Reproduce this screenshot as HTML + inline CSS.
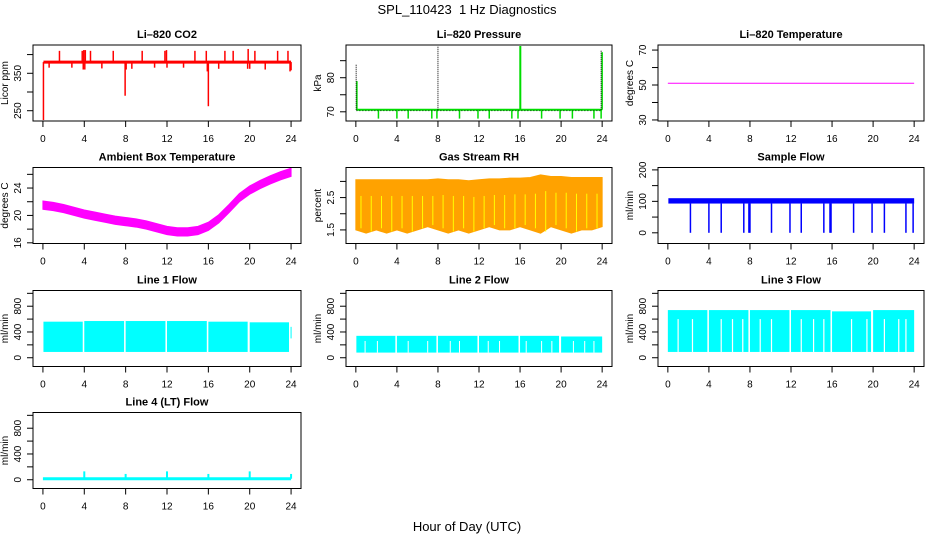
<!DOCTYPE html>
<html><head><meta charset="utf-8"><style>
html,body{margin:0;padding:0;background:#fff}
svg{display:block;font-family:"Liberation Sans",sans-serif}
</style></head><body>
<svg id="c" width="936" height="540" viewBox="0 0 936 540" xmlns="http://www.w3.org/2000/svg">
<text x="467" y="14" font-size="13" text-anchor="middle">SPL_110423&#160; 1 Hz Diagnostics</text>
<text x="467" y="531" font-size="13" text-anchor="middle">Hour of Day (UTC)</text>
</svg>
<script>
const xTicks=[0,4,8,12,16,20,24];
const hourly=[0,1,2,3,4,5,6,7,8,9,10,11,12,13,14,15,16,17,18,19,20,21,22,23,24];
// CO2
const co2Base=380;
const co2UpHours=[1.6,3.8,3.95,4.1,4.6,6.8,9.6,11.8,11.95,14.7,15.8,17.6,18.4,19.85,20.5,22.7,23.7];
const co2UpVals=[410,410,412,412,410,410,410,410,412,410,410,410,410,415,410,410,410];
const co2DownHours=[0.05,0.6,2.8,3.9,4.05,5.7,7.95,8.05,8.6,10.8,12.0,13.6,15.9,16.0,17.0,19.8,20.0,21.5,23.9,24];
const co2DownVals=[225,365,365,360,360,363,290,360,362,365,365,365,355,262,362,362,362,360,355,358];
// Pressure
const presBase=70.6;
const presBlackHours=[0.03,8.0,23.9];
const presBlackVals=[84,89.3,88];
const presGreenHours=[0.1,16.0,16.05,24.0];
const presGreenVals=[79,89.3,89.3,87.5];
const presDipHours=[2.2,4.0,5.1,7.4,7.9,10.1,11.9,13.0,15.2,15.8,18.1,19.9,21.1,23.2,23.9];
const presDipVal=68;
// Li-820 temperature
const tempVal=51;
// Ambient box temperature
const ambVals=[21.5,21.3,21.0,20.6,20.2,19.9,19.6,19.3,19.1,18.9,18.6,18.2,17.8,17.6,17.6,17.8,18.4,19.5,21.0,22.6,23.7,24.5,25.2,25.8,26.3];
// RH
const rhUpper=[3.05,3.05,3.05,3.05,3.05,3.05,3.05,3.05,3.08,3.05,3.05,3.02,3.05,3.08,3.08,3.1,3.1,3.12,3.2,3.15,3.15,3.12,3.12,3.12,3.12];
const rhLower=[1.5,1.4,1.5,1.4,1.5,1.4,1.5,1.6,1.5,1.4,1.5,1.4,1.5,1.6,1.5,1.5,1.6,1.5,1.4,1.6,1.5,1.4,1.5,1.5,1.6];
// Sample flow
const sfLow=93, sfHigh=110;
const sfDipHours=[2.2,4.0,5.2,7.4,7.9,8.0,10.1,11.9,13.0,15.2,15.8,15.9,18.1,19.9,21.1,23.2,23.9];
// Line flows
const l1Start=[0.05,4.0,8.0,12.0,16.0,20.0,23.95];
const l1End=[3.85,7.85,11.85,15.85,19.8,23.8,24.05];
const l1High=[560,570,570,570,560,550,480];
const l1Low=[90,90,90,90,90,90,300];
const l2Start=[0.05,4.0,8.0,12.0,16.0,20.0];
const l2End=[3.85,7.85,11.85,15.85,19.8,24.0];
const l2High=[340,340,340,340,340,330];
const l2Low=[80,80,80,80,80,80];
const l2GapHours=[0.9,2.1,5.1,7.0,9.2,10.1,12.9,14.0,16.6,18.1,19.1,21.2,22.3,23.2];
const l3Start=[0.0,4.0,8.0,12.0,16.0,20.0];
const l3End=[3.85,7.85,11.85,15.85,19.8,24.0];
const l3High=[740,740,740,740,720,740];
const l3Low=[90,90,90,90,90,90];
const l3GapHours=[1.0,2.4,5.2,6.3,7.3,9.0,10.1,13.0,14.2,15.2,17.9,19.4,21.1,22.5,23.2];
const l4Base=15;
const l4SpikeHours=[4,8,12,16,20,24];
const l4SpikeVals=[130,90,130,90,130,90];

const NS="http://www.w3.org/2000/svg";
const svg=document.getElementById('c');
const cols=[[33,301],[346,612],[658,924]];
const rows=[45,167.5,290.5,412.5];
const H=76;
function mk(tag,attrs,parent){const e=document.createElementNS(NS,tag);for(const k in attrs)e.setAttribute(k,attrs[k]);(parent||svg).appendChild(e);return e;}

function panel(name,title,col,row,yDom,yTicks,yLabels,ylab){
  const [L,R]=cols[col];const T=rows[row];const B=T+H;
  const g=mk('g',{});
  
  
  const xs=h=>L+(h+0.96)/(25.92)*(R-L);
  const ys=v=>B-(v-yDom[0])/(yDom[1]-yDom[0])*H;
  const t=mk('text',{x:(L+R)/2,y:T-7,'font-size':11,'font-weight':'bold','text-anchor':'middle'},g);
  t.textContent=title;
  
  
  const marks=mk('g',{},g);
  
  
  const box=mk('rect',{x:L,y:T,width:R-L,height:H,fill:'none',stroke:'#000','stroke-width':1},g);
  
  
  const xa=mk('g',{},g);
  
  
  mk('line',{x1:xs(0),x2:xs(24),y1:B,y2:B,stroke:'#000'},xa);
  xTicks.forEach(h=>{mk('line',{x1:xs(h),x2:xs(h),y1:B,y2:B+6,stroke:'#000'},xa);
    const tl=mk('text',{x:xs(h),y:B+21,'font-size':10,'text-anchor':'middle'},xa);tl.textContent=h;});
  const ya=mk('g',{},g);
  
  
  yTicks.forEach(v=>{mk('line',{x1:L-6,x2:L,y1:ys(v),y2:ys(v),stroke:'#000'},ya);});
  yLabels.forEach(v=>{const tl=mk('text',{x:L-12,y:ys(v),'font-size':10,'text-anchor':'middle',transform:`rotate(-90 ${L-12} ${ys(v)})`},ya);tl.textContent=v;});
  const yl=mk('text',{x:L-25,y:(T+B)/2,'font-size':10,'text-anchor':'middle',transform:`rotate(-90 ${L-25} ${(T+B)/2})`},g);
  yl.textContent=ylab;
  
  
  return {xs,ys,g:marks};
}
function vline(p,h,v1,v2,col,w){mk('line',{x1:p.xs(h),x2:p.xs(h),y1:p.ys(v1),y2:p.ys(v2),stroke:col,'stroke-width':w||1.5},p.g);}
function band(p,hrs,up,lo,col){
  let d='M'+hrs.map((h,i)=>p.xs(h)+','+p.ys(up[i])).join('L');
  d+='L'+hrs.slice().reverse().map((h,i)=>p.xs(h)+','+p.ys(lo[lo.length-1-i])).join('L')+'Z';
  mk('path',{d,fill:col,stroke:col,'stroke-width':1},p.g);
}
function segs(p,st,en,hi,lo,col){st.forEach((s,i)=>{mk('rect',{x:p.xs(s),y:p.ys(hi[i]),width:Math.max(1,p.xs(en[i])-p.xs(s)),height:p.ys(lo[i])-p.ys(hi[i]),fill:col},p.g);});}

// CO2
let p=panel('co2','Li\u2013820 CO2',0,0,[222.5,425.6],[250,300,350,400],[250,350],'Licor ppm');
co2UpHours.forEach((h,i)=>vline(p,h,co2Base,co2UpVals[i],'#f00'));
co2DownHours.forEach((h,i)=>vline(p,h,co2Base,co2DownVals[i],'#f00'));
mk('line',{x1:p.xs(0.05),x2:p.xs(24),y1:p.ys(co2Base),y2:p.ys(co2Base),stroke:'#f00','stroke-width':3},p.g);
// Pressure
p=panel('pressure','Li\u2013820 Pressure',1,0,[67.3,89.6],[70,75,80,85],[70,80],'kPa');
presDipHours.forEach(h=>vline(p,h,presBase,presDipVal,'#0d0',1.5));
mk('line',{x1:p.xs(0.05),x2:p.xs(24),y1:p.ys(presBase),y2:p.ys(presBase),stroke:'#0d0','stroke-width':2},p.g);
mk('line',{x1:p.xs(0.05),x2:p.xs(24),y1:p.ys(presBase)+1,y2:p.ys(presBase)+1,stroke:'#000','stroke-width':0.8,'stroke-dasharray':'1 2'},p.g);
presGreenHours.forEach((h,i)=>vline(p,h,presBase,presGreenVals[i],'#0d0',1.5));
presBlackHours.forEach((h,i)=>{mk('line',{x1:p.xs(h),x2:p.xs(h),y1:p.ys(presBase),y2:p.ys(presBlackVals[i]),stroke:'#000','stroke-width':1,'stroke-dasharray':'1 1'},p.g);});
// Li-820 temp
p=panel('li820-temp','Li\u2013820 Temperature',2,0,[29.4,72.9],[30,40,50,60,70],[30,50,70],'degrees C');
mk('line',{x1:p.xs(0),x2:p.xs(24),y1:p.ys(tempVal),y2:p.ys(tempVal),stroke:'#f0f','stroke-width':1},p.g);
// Ambient
p=panel('ambient-temp','Ambient Box Temperature',0,1,[15.9,27],[16,18,20,22,24,26],[16,20,24],'degrees C');
band(p,hourly,ambVals.map(v=>v+0.6),ambVals.map(v=>v-0.6),'#f0f');
// RH
p=panel('rh','Gas Stream RH',1,1,[1.08,3.43],[1.5,2.0,2.5,3.0],[1.5,2.5],'percent');
band(p,hourly,rhUpper,rhLower,'#ffa200');
hourly.forEach((h,i)=>{if(i<24){vline(p,h+0.5,rhUpper[i]-0.5,rhLower[i]+0.05,'#ff0',1);}});
// Sample flow
p=panel('sample-flow','Sample Flow',2,1,[-34,207.6],[0,50,100,150,200],[0,100,200],'ml/min');
sfDipHours.forEach(h=>vline(p,h,sfLow,0,'#00f',1.5));
mk('rect',{x:p.xs(0.05),y:p.ys(sfHigh),width:p.xs(24)-p.xs(0.05),height:p.ys(sfLow)-p.ys(sfHigh),fill:'#00f'},p.g);
// Line flows
const fD=[-136,1044],fT=[0,200,400,600,800,1000],fL=[0,400,800];
p=panel('line1-flow','Line 1 Flow',0,2,fD,fT,fL,'ml/min');
segs(p,l1Start,l1End,l1High,l1Low,'#0ff');
p=panel('line2-flow','Line 2 Flow',1,2,fD,fT,fL,'ml/min');
segs(p,l2Start,l2End,l2High,l2Low,'#0ff');
l2GapHours.forEach(h=>vline(p,h,l2Low[0],260,'#fff',1));
p=panel('line3-flow','Line 3 Flow',2,2,fD,fT,fL,'ml/min');
segs(p,l3Start,l3End,l3High,l3Low,'#0ff');
l3GapHours.forEach(h=>vline(p,h,l3Low[0],600,'#fff',1.2));
p=panel('line4-flow','Line 4 (LT) Flow',0,3,fD,fT,fL,'ml/min');
l4SpikeHours.forEach((h,i)=>vline(p,h,l4Base,l4SpikeVals[i],'#0ff',2));
mk('line',{x1:p.xs(0),x2:p.xs(24),y1:p.ys(l4Base),y2:p.ys(l4Base),stroke:'#0ff','stroke-width':3},p.g);
</script>
</body></html>
